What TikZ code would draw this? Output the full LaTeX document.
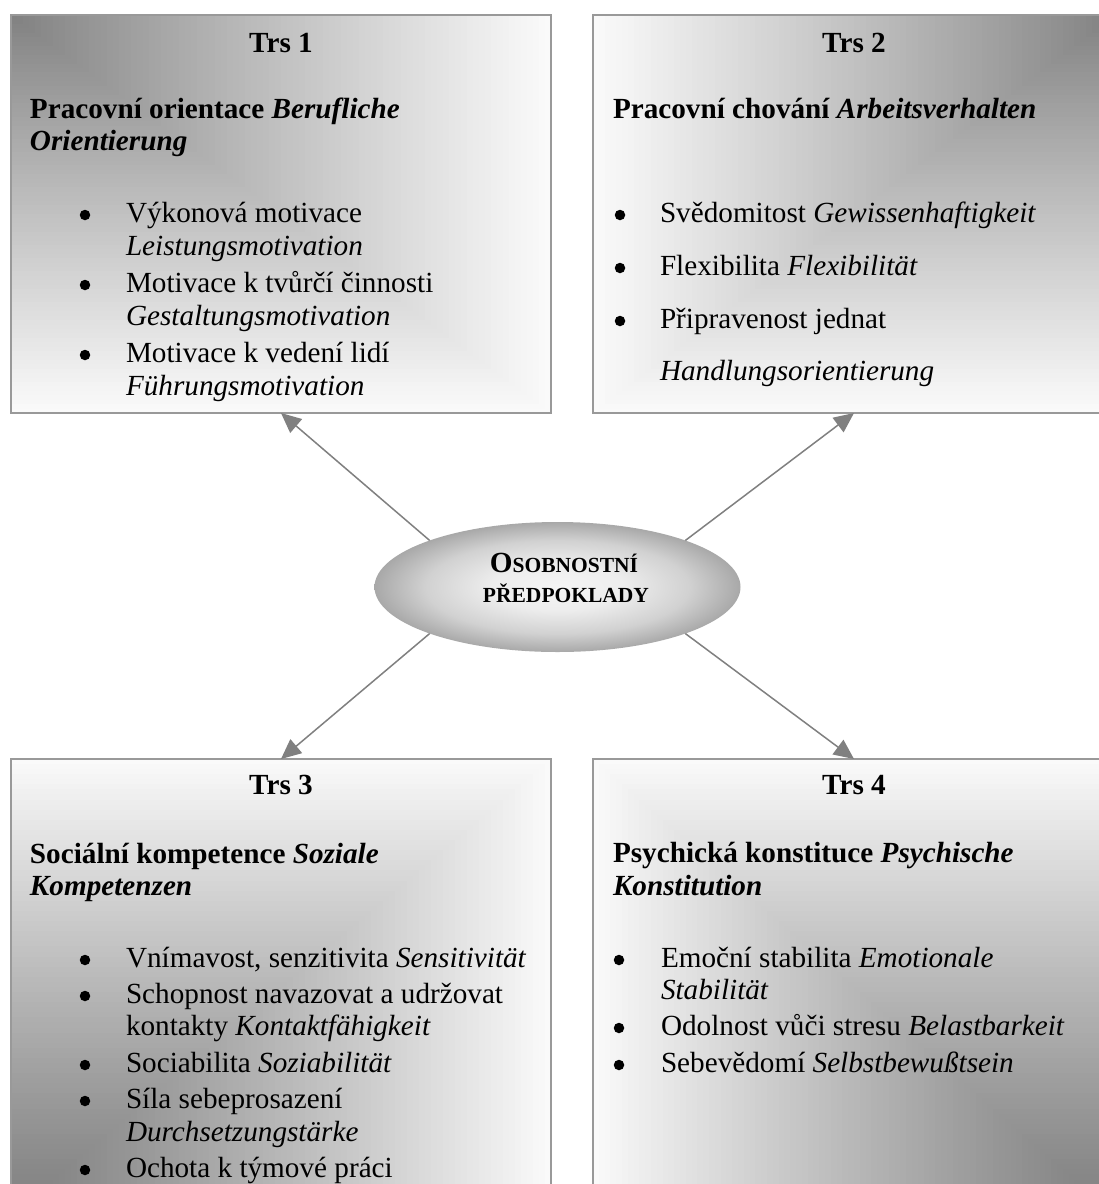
\documentclass[tikz,border=0pt]{standalone}
\usepackage{fontspec}
\setmainfont{Liberation Serif}
\usetikzlibrary{arrows.meta,shapes.geometric,calc}

% Rectangular gradient: dark in corner #1, fading to white toward corner #2;
% #3 shapes how quickly the grey gives way to white
\newcommand\cornerfade[3]{%
  \foreach \k in {0,...,89}{%
    \pgfmathsetmacro\fadeS{1-\k/90}%
    \pgfmathsetmacro\fadeP{50-48*pow(\fadeS,#3)}%
    \fill[black!\fadeP!white] (path picture bounding box.#1) rectangle
      ($(path picture bounding box.#1)!\fadeS!(path picture bounding box.#2)$);%
  }}

% light centre, grey rim for the central ellipse
\pgfdeclareradialshading{hubfade}{\pgfpoint{0bp}{0bp}}{%
  color(0bp)=(black!4); color(9bp)=(black!7); color(18bp)=(black!18);
  color(25bp)=(black!34); color(50bp)=(black!34)}

\tikzset{
  panel/.style={rectangle, draw=black!40, line width=1.5pt, inner sep=0pt,
    outer sep=0pt, anchor=north west},
  txt/.style={anchor=base west, inner sep=0pt, outer sep=0pt,
    font={\fontsize{29.2}{33.6}\selectfont}},
  head/.style={anchor=base, inner sep=0pt, outer sep=0pt,
    font={\fontsize{29.2}{33.6}\selectfont\bfseries}},
  dot/.style={circle, fill=black, minimum size=10.5pt, inner sep=0pt, outer sep=0pt},
  hubtext/.style={anchor=base, inner sep=0pt, outer sep=0pt,
    font={\fontsize{21.5}{24}\selectfont\bfseries}},
  link/.style={draw=black!50, line width=1.5pt,
    -{Triangle[length=20pt,width=18pt]}},
  hub/.style={ellipse, minimum width=366pt, minimum height=130pt,
    inner sep=0pt, outer sep=0pt, shading=hubfade}
}

\begin{document}
\begin{tikzpicture}[x=1pt,y=-1pt]
\useasboundingbox (0,0) rectangle (1099,1184);
\clip (0,0) rectangle (1099,1184);
\fill[white] (0,0) rectangle (1099,1184);

% the four trait panels
\node[panel, minimum width=540pt, minimum height=398pt,
  path picture={\cornerfade{north west}{south east}{0.92}}] (b1) at (11,15) {};
\node[panel, minimum width=522pt, minimum height=398pt,
  path picture={\cornerfade{north east}{south west}{0.92}}] (b2) at (593,15) {};
\node[panel, minimum width=540pt, minimum height=456pt,
  path picture={\cornerfade{south west}{north east}{1.15}}] (b3) at (11,759) {};
\node[panel, minimum width=522pt, minimum height=456pt,
  path picture={\cornerfade{south east}{north west}{1.15}}] (b4) at (593,759) {};

% central ellipse
\node[hub] (hub) at (557.5,587) {};
\node[hubtext] (hubA) at (564,572)
  {{\fontsize{29.2}{33.6}\selectfont O}SOBNOSTNÍ};
\node[hubtext] (hubB) at (566,602) {PŘEDPOKLADY};

% connectors
\draw[link] (hub.160) -- (b1.south);
\draw[link] (hub.20)  -- (b2.south);
\draw[link] (hub.200) -- (b3.north);
\draw[link] (hub.340) -- (b4.north);

% panel 1
\node[head] (h1) at (281,52) {Trs 1};
\node[txt] (p1a) at (30,118) {\textbf{Pracovní orientace \textit{Berufliche}}};
\node[txt] (p1b) at (30,150) {\textbf{\textit{Orientierung}}};
\node[dot] (d1a) at (85,215) {};
\node[dot] (d1b) at (85,285) {};
\node[dot] (d1c) at (85,355) {};
\node[txt] (i1a) at (126,222) {Výkonová motivace};
\node[txt] (i1b) at (126,255) {\textit{Leistungsmotivation}};
\node[txt] (i1c) at (126,292) {Motivace k tvůrčí činnosti};
\node[txt] (i1d) at (126,325) {\textit{Gestaltungsmotivation}};
\node[txt] (i1e) at (126,362) {Motivace k vedení lidí};
\node[txt] (i1f) at (126,395) {\textit{Führungsmotivation}};

% panel 2
\node[head] (h2) at (854,52) {Trs 2};
\node[txt] (p2a) at (613,118) {\textbf{Pracovní chování \textit{Arbeitsverhalten}}};
\node[dot] (d2a) at (620,215) {};
\node[dot] (d2b) at (620,268) {};
\node[dot] (d2c) at (620,321) {};
\node[txt] (i2a) at (660,222) {Svědomitost \textit{Gewissenhaftigkeit}};
\node[txt] (i2b) at (660,275) {Flexibilita \textit{Flexibilität}};
\node[txt] (i2c) at (660,328) {Připravenost jednat};
\node[txt] (i2d) at (660,380) {\textit{Handlungsorientierung}};

% panel 3
\node[head] (h3) at (281,794) {Trs 3};
\node[txt] (p3a) at (30,863) {\textbf{Sociální kompetence \textit{Soziale}}};
\node[txt] (p3b) at (30,895) {\textbf{\textit{Kompetenzen}}};
\node[dot] (d3a) at (85,960) {};
\node[dot] (d3b) at (85,996) {};
\node[dot] (d3c) at (85,1065) {};
\node[dot] (d3d) at (85,1101) {};
\node[dot] (d3e) at (85,1170) {};
\node[txt] (i3a) at (126,967) {Vnímavost, senzitivita \textit{Sensitivität}};
\node[txt] (i3b) at (126,1003) {Schopnost navazovat a udržovat};
\node[txt] (i3c) at (126,1035) {kontakty \textit{Kontaktfähigkeit}};
\node[txt] (i3d) at (126,1072) {Sociabilita \textit{Soziabilität}};
\node[txt] (i3e) at (126,1108) {Síla sebeprosazení};
\node[txt] (i3f) at (126,1141) {\textit{Durchsetzungstärke}};
\node[txt] (i3g) at (126,1177) {Ochota k týmové práci};

% panel 4
\node[head] (h4) at (854,794) {Trs 4};
\node[txt] (p4a) at (613,862) {\textbf{Psychická konstituce \textit{Psychische}}};
\node[txt] (p4b) at (613,895) {\textbf{\textit{Konstitution}}};
\node[dot] (d4a) at (619,960) {};
\node[dot] (d4b) at (619,1028) {};
\node[dot] (d4c) at (619,1065) {};
\node[txt] (i4a) at (661,967) {Emoční stabilita \textit{Emotionale}};
\node[txt] (i4b) at (661,999) {\textit{Stabilität}};
\node[txt] (i4c) at (661,1035) {Odolnost vůči stresu \textit{Belastbarkeit}};
\node[txt] (i4d) at (661,1072) {Sebevědomí \textit{Selbstbewußtsein}};
\end{tikzpicture}
\end{document}
